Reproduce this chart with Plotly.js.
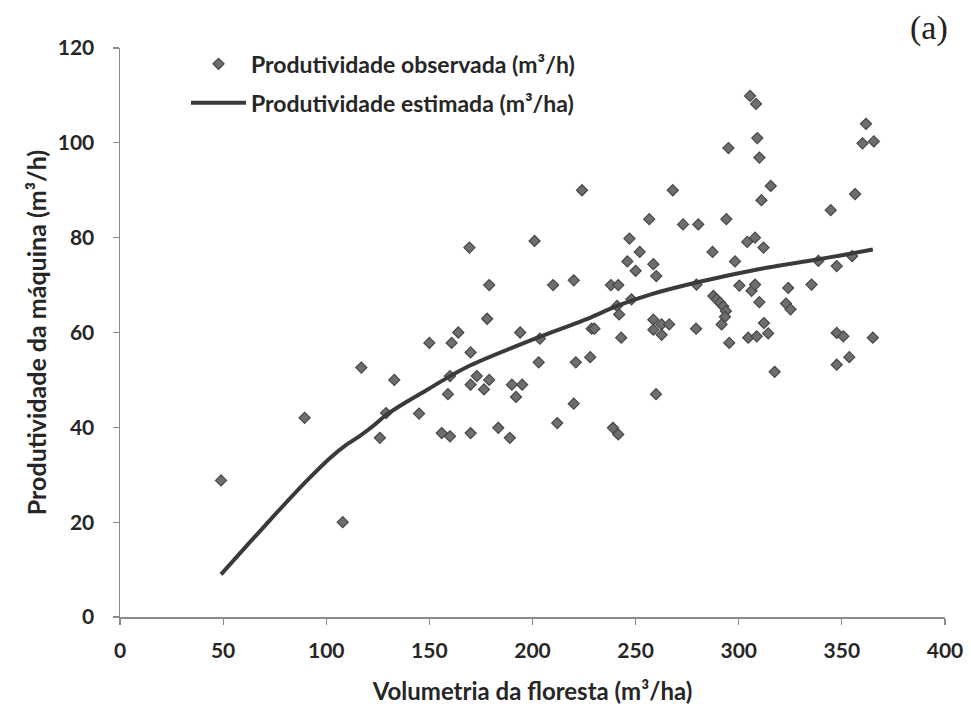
<!DOCTYPE html>
<html>
<head>
<meta charset="utf-8">
<script src="https://cdn.plot.ly/plotly-3.0.1.min.js"></script>
<style>html,body{margin:0;padding:0;background:#fff;}#chart{width:971px;height:709px;}</style>
</head>
<body>
<div id="chart"></div>
<script>
// Observed productivity (m³/h) vs forest volume (m³/ha)
const obsX = [49, 89.5, 108, 117, 133, 126, 129, 145, 150, 156, 159, 160, 160, 160.8, 164, 169.4, 170, 170, 170, 173,
  176.5, 178, 179, 179, 183.4, 189, 190, 192, 194, 195, 201, 203, 203.6, 210, 212, 220, 220, 221, 224, 228,
  228.7, 230, 238, 239, 241, 241.6, 241.6, 242, 243, 246, 247, 248, 250, 252, 256.6, 258.6, 260, 258.6, 262.6, 258.6,
  262.6, 266.3, 259.9, 268, 273, 279.5, 279.3, 280.4, 287.3, 287.7, 289.3, 290.9, 292.5, 293.8, 293.3, 291.7, 294, 295, 295.4, 298.2,
  300.3, 304.1, 304.6, 305.5, 306.2, 307.9, 307.9, 308.4, 310, 308.7, 309, 310, 311, 312, 312.2, 314.3, 315.5, 317.4,
  322.9, 324, 325.1, 335.3, 338.6, 344.6, 347.5, 347.5, 347.5, 350.7, 353.6, 355, 356.4, 360, 361.7, 365.5, 365];
const obsY = [28.8, 42, 20, 52.6, 50, 37.8, 43, 42.9, 57.8, 38.8, 47, 50.8, 38.1, 57.8, 60, 77.9, 55.8, 49, 38.8, 50.8,
  48, 62.9, 70, 50, 39.9, 37.8, 49, 46.4, 60, 49, 79.3, 53.7, 58.7, 70, 40.9, 71, 45, 53.7, 90, 54.8,
  60.8, 60.8, 70, 39.9, 65.6, 70, 38.5, 63.8, 58.9, 75, 79.8, 67, 73, 77, 83.9, 74.4, 71.9, 62.7, 61.7, 60.6,
  59.5, 61.7, 47, 90, 82.8, 70.1, 60.8, 82.8, 77, 67.7, 67, 66.3, 65.5, 64.5, 63.3, 61.7, 83.9, 98.9, 57.8, 75,
  69.9, 79.1, 58.9, 109.9, 68.8, 80, 70.1, 108.2, 66.4, 59.2, 101, 96.9, 87.9, 77.9, 62, 59.8, 90.9, 51.7,
  66.1, 69.4, 64.9, 70.1, 75.1, 85.8, 74, 59.9, 53.2, 59.2, 54.8, 76.1, 89.2, 99.9, 104, 100.3, 58.9];

// Estimated productivity curve
const estX = [49, 62, 76, 90, 102, 110, 116, 123, 129, 139, 150, 160, 170, 200, 225, 241, 257, 280, 309, 338, 350, 365];
const estY = [9, 15.3, 22, 28.5, 33.6, 36.4, 38.1, 40.4, 42.6, 45.4, 48.2, 50.8, 53.1, 58.5, 62.6, 65.6, 68, 70.6, 73.3, 75.4, 76.3, 77.5];

const xTicks = [0, 50, 100, 150, 200, 250, 300, 350, 400];
const yTicks = [0, 20, 40, 60, 80, 100, 120];

const fam = 'Lato, "Open Sans", sans-serif';
const legendFont = {family: fam, size: 23, color: '#262626', weight: 'bold'};
const xTitleFont = {family: fam, size: 24, color: '#262626', weight: 'bold'};
const yTitleFont = {family: fam, size: 25, color: '#262626', weight: 'bold'};
const tickFont = {family: fam, size: 21, color: '#262626', weight: 'bold'};

const traces = [
  {
    x: obsX, y: obsY, type: 'scatter', mode: 'markers',
    name: 'Produtividade observada (m³/h)', legendgroup: 'a',
    marker: {symbol: 'diamond', size: 8.5, color: '#6e6e6e', line: {color: '#474747', width: 1.2}},
    hoverinfo: 'x+y'
  },
  {
    x: estX, y: estY, type: 'scatter', mode: 'lines',
    name: 'Produtividade estimada (m³/ha)', legendgroup: 'b',
    line: {color: '#3a3a3a', width: 4, shape: 'spline', smoothing: 0.5},
    hoverinfo: 'x+y'
  }
];

const layout = {
  width: 971, height: 709,
  paper_bgcolor: '#ffffff', plot_bgcolor: '#ffffff',
  margin: {l: 120, r: 26, t: 48, b: 92},
  showlegend: true,
  legend: {
    x: 0.08, y: 1.01, xanchor: 'left', yanchor: 'top',
    bgcolor: 'rgba(0,0,0,0)', borderwidth: 0,
    font: legendFont, itemwidth: 55, traceorder: 'grouped', tracegroupgap: 6
  },
  xaxis: {
    range: [0, 400], tickvals: xTicks, ticktext: xTicks.map(String),
    showgrid: false, zeroline: false, showline: true, linecolor: '#8a8a8a', linewidth: 1.5,
    ticks: 'outside', ticklen: 6, tickcolor: '#8a8a8a', tickwidth: 1.2,
    tickfont: tickFont, ticklabelstandoff: 8,
    title: {text: 'Volumetria da floresta (m³/ha)', font: xTitleFont, standoff: 22}
  },
  yaxis: {
    range: [0, 120], tickvals: yTicks, ticktext: yTicks.map(String),
    showgrid: false, zeroline: false, showline: true, linecolor: '#8a8a8a', linewidth: 1.5,
    ticks: 'outside', ticklen: 6, tickcolor: '#8a8a8a', tickwidth: 1.2,
    tickfont: tickFont, ticklabelstandoff: 14,
    title: {text: 'Produtividade da máquina (m³/h)', font: yTitleFont, standoff: 4}
  },
  annotations: [{
    text: '(a)', xref: 'paper', yref: 'paper', x: 0.981, y: 1.035,
    xanchor: 'center', yanchor: 'middle', showarrow: false,
    font: {family: '"Liberation Serif", "DejaVu Serif", serif', size: 34, color: '#222'}
  }]
};

Plotly.newPlot('chart', traces, layout, {staticPlot: true, displayModeBar: false});
</script>
</body>
</html>
